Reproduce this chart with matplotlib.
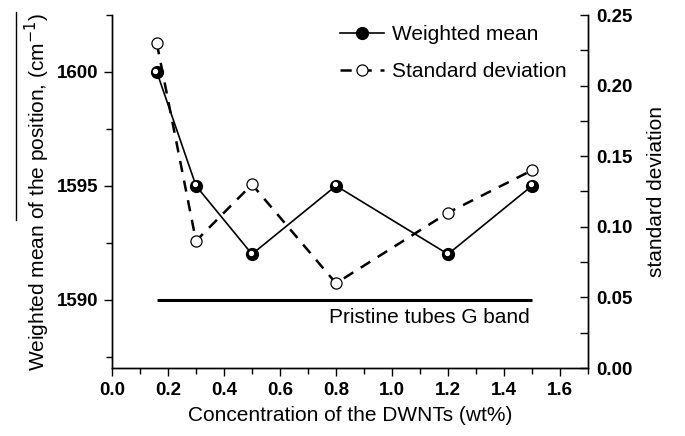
import matplotlib
matplotlib.use("Agg")
import matplotlib.pyplot as plt
import matplotlib.transforms as mtransforms
from matplotlib.lines import Line2D
from matplotlib.ticker import MultipleLocator, FormatStrFormatter

plt.rcParams['font.family'] = ['Liberation Sans', 'DejaVu Sans']

conc = [0.16, 0.3, 0.5, 0.8, 1.2, 1.5]
weighted_mean = [1600, 1595, 1592, 1595, 1592, 1595]
std_dev = [0.23, 0.09, 0.13, 0.06, 0.11, 0.14]
pristine_x = [0.16, 1.5]
pristine_y = [1590, 1590]

fig = plt.figure(figsize=(6.85, 4.36), dpi=100)
ax = fig.add_axes([112/685, 1-368/436, 476/685, 353/436])
ax2 = ax.twinx()

# pristine band
ax.plot(pristine_x, pristine_y, color='black', lw=2.2, solid_capstyle='butt', zorder=2)
ax.text(1.135, 1589.2, 'Pristine tubes G band', ha='center', va='center', fontsize=15)

# std dev (right axis)
ax2.plot(conc, std_dev, color='black', lw=1.8, ls=(0, (4.5, 3.5)),
         marker='o', ms=8, mfc='white', mec='black', mew=0.9, zorder=3)

# weighted mean (left axis)
ax.plot(conc, weighted_mean, color='black', lw=1.2, marker='o', ms=8.5,
        mfc='black', mec='black', zorder=4)
off = mtransforms.offset_copy(ax.transData, fig=fig, x=-1.4, y=1.4, units='dots')
ax.plot(conc, weighted_mean, ls='none', marker='o', ms=2.8, mfc='white', mec='white',
        transform=off, zorder=5)
ax.set_zorder(ax2.get_zorder() + 1)
ax.patch.set_visible(False)

ax.set_xlim(0, 1.7)
ax.set_ylim(1587, 1602.5)
ax2.set_ylim(0, 0.25)

ax.xaxis.set_major_locator(MultipleLocator(0.2))
ax.xaxis.set_minor_locator(MultipleLocator(0.1))
ax.yaxis.set_major_locator(MultipleLocator(5))
ax.yaxis.set_minor_locator(MultipleLocator(2.5))
ax2.yaxis.set_major_locator(MultipleLocator(0.05))
ax2.yaxis.set_minor_locator(MultipleLocator(0.025))

for a in (ax, ax2):
    a.spines['top'].set_visible(False)
    for s in a.spines.values():
        s.set_linewidth(1.0)

ax.tick_params(axis='both', which='major', direction='out', length=6, width=1,
               labelsize=13.5, pad=4)
ax.tick_params(axis='both', which='minor', direction='out', length=4, width=1)
ax2.tick_params(axis='y', which='major', direction='in', length=6, width=1,
                labelsize=13.5, pad=6)
ax2.tick_params(axis='y', which='minor', direction='in', length=6, width=1)
ax.xaxis.set_major_formatter(FormatStrFormatter('%.1f'))
ax2.yaxis.set_major_formatter(FormatStrFormatter('%.2f'))
for lab in ax.get_xticklabels() + ax.get_yticklabels() + ax2.get_yticklabels():
    lab.set_fontweight('bold')

ax.set_xlabel('Concentration of the DWNTs (wt%)', fontsize=15, labelpad=5)
ax.set_ylabel('Weighted mean of the position, (cm$^{-1}$)', fontsize=15, labelpad=3)
ax2.set_ylabel('standard deviation', fontsize=15, labelpad=10)

# overline decoration on left label
fig.add_artist(Line2D([16/685, 16/685], [1-220/436, 1-12/436], color='black', lw=1.0))

h1 = Line2D([], [], color='black', lw=1.2, marker='o', ms=8.5, mfc='black', mec='black')
h2 = Line2D([], [], color='black', lw=1.8, ls=(0, (4.5, 3.5)), marker='o', ms=8,
            mfc='white', mec='black', mew=0.9)
ax.legend([h1, h2], ['Weighted mean', 'Standard deviation'], loc='upper left',
          bbox_to_anchor=((330-112)/476, 1.0), frameon=False, fontsize=15,
          handlelength=2.1, handletextpad=0.4, labelspacing=0.85, borderaxespad=0.1)

fig.savefig('out.png', dpi=100)
